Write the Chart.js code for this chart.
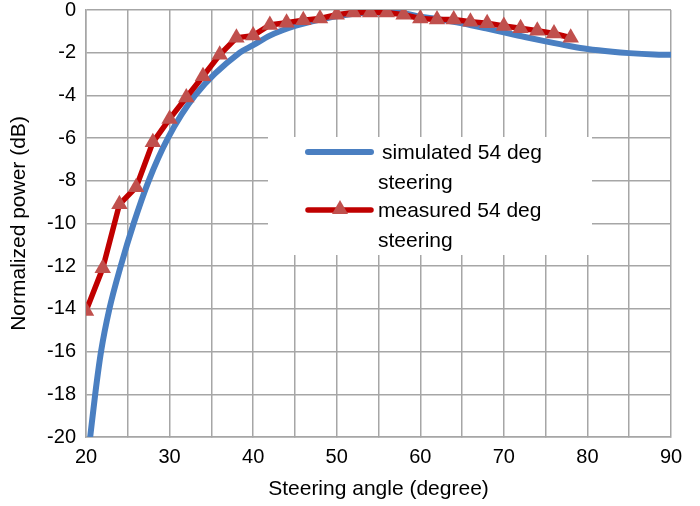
<!DOCTYPE html>
<html>
<head>
<meta charset="utf-8">
<script src="https://cdn.jsdelivr.net/npm/chart.js@4/dist/chart.umd.min.js"></script>
<style>
  html, body { margin: 0; padding: 0; background: #fff; }
  #wrap { width: 700px; height: 506px; position: relative; }
</style>
</head>
<body>
<div id="wrap"><canvas id="c"></canvas></div>
<script>
// simulated 54 deg steering (angle, dB)
const simAngles = [20.5, 21.1, 21.8, 22.8, 24.15, 25.7, 27.5, 29.8, 33.05, 38.4, 40, 42, 45, 48, 50, 52, 54, 56, 58, 60, 62, 65, 68, 70, 72, 75, 78, 80, 83, 85, 88, 90];
const simPower  = [-20, -18, -16, -14, -12, -10, -8, -6, -4, -2, -1.65, -1.2, -0.75, -0.45, -0.3, -0.18, -0.12, -0.1, -0.15, -0.31, -0.42, -0.62, -0.87, -1.05, -1.22, -1.47, -1.7, -1.83, -1.96, -2.02, -2.08, -2.1];

// measured 54 deg steering, every 2 degrees
const measAngles = [20, 22, 24, 26, 28, 30, 32, 34, 36, 38, 40, 42, 44, 46, 48, 50, 52, 54, 56, 58, 60, 62, 64, 66, 68, 70, 72, 74, 76, 78];
const measPower  = [-14.1, -12.1, -9.1, -8.3, -6.2, -5.1, -4.1, -3.1, -2.1, -1.3, -1.2, -0.7, -0.6, -0.48, -0.4, -0.22, -0.12, -0.12, -0.12, -0.22, -0.4, -0.45, -0.45, -0.55, -0.62, -0.75, -0.85, -0.97, -1.1, -1.3];

const legendLabels = [
  ['simulated 54 deg', 'steering'],
  ['measured 54 deg', 'steering'],
];

const FONT = 'Liberation Sans, Arial, sans-serif';
const BLUE = '#4a7fc1';
const RED = '#c00000';
const MARKER = '#c0504d';
const GRID = '#a6a6a6';

// legend box drawn inside the plot, over the gridlines
const boxLegend = {
  id: 'boxLegend',
  beforeDatasetsDraw(chart) {
    const ctx = chart.ctx;
    ctx.save();
    ctx.fillStyle = '#fff';
    ctx.fillRect(268, 137, 324, 118);
    ctx.lineCap = 'round';
    ctx.font = '21px ' + FONT;
    ctx.fillStyle = '#000';
    ctx.textBaseline = 'middle';

    ctx.strokeStyle = BLUE;
    ctx.lineWidth = 6;
    ctx.beginPath(); ctx.moveTo(308, 152); ctx.lineTo(371, 152); ctx.stroke();
    ctx.fillText(legendLabels[0][0], 382, 153);
    ctx.fillText(legendLabels[0][1], 378, 183);

    ctx.strokeStyle = RED;
    ctx.lineWidth = 5.5;
    ctx.beginPath(); ctx.moveTo(308, 210); ctx.lineTo(371, 210); ctx.stroke();
    ctx.fillStyle = MARKER;
    ctx.beginPath(); ctx.moveTo(340, 200); ctx.lineTo(348, 214); ctx.lineTo(332, 214); ctx.closePath(); ctx.fill();
    ctx.fillStyle = '#000';
    ctx.fillText(legendLabels[1][0], 378, 211);
    ctx.fillText(legendLabels[1][1], 378, 241);
    ctx.restore();
  }
};

new Chart(document.getElementById('c'), {
  type: 'line',
  data: {
    datasets: [
      {
        label: 'measured 54 deg steering',
        data: measAngles.map((x, i) => ({ x, y: measPower[i] })),
        borderColor: RED,
        borderWidth: 5.5,
        pointStyle: 'triangle',
        pointRadius: 9.5,
        pointBackgroundColor: MARKER,
        pointBorderColor: MARKER,
        pointBorderWidth: 0,
        tension: 0,
        order: 0,
      },
      {
        label: 'simulated 54 deg steering',
        data: simAngles.map((x, i) => ({ x, y: simPower[i] })),
        borderColor: BLUE,
        borderWidth: 6,
        pointRadius: 0,
        cubicInterpolationMode: 'monotone',
        order: 1,
      },
    ],
  },
  options: {
    responsive: true,
    maintainAspectRatio: false,
    animation: false,
    layout: { padding: { top: 10, right: 29, left: 0, bottom: 0 } },
    plugins: {
      legend: { display: false },
      tooltip: { enabled: false },
    },
    scales: {
      x: {
        type: 'linear',
        min: 20,
        max: 90,
        ticks: {
          stepSize: 5,
          autoSkip: false,
          maxRotation: 0,
          color: '#000',
          font: { family: FONT, size: 20 },
          padding: 8,
          callback(v) { return v % 10 === 0 ? v : ''; },
        },
        grid: { color: GRID, lineWidth: 1.5, tickLength: 0 },
        border: { color: GRID, width: 1.5 },
        title: {
          display: true,
          text: 'Steering angle (degree)',
          color: '#000',
          font: { family: FONT, size: 21 },
          padding: { top: 4, bottom: 4 },
        },
        afterFit(s) { s.height = 69; },
      },
      y: {
        type: 'linear',
        min: -20,
        max: 0,
        ticks: {
          stepSize: 2,
          color: '#000',
          font: { family: FONT, size: 20 },
          padding: 10,
        },
        grid: { color: GRID, lineWidth: 1.5, tickLength: 0 },
        border: { color: GRID, width: 1.5 },
        title: {
          display: true,
          text: 'Normalized power (dB)',
          color: '#000',
          font: { family: FONT, size: 21 },
          padding: { top: 7, bottom: 4 },
        },
        afterFit(s) {
          s.width = 86;
          s.paddingTop = 0;
          s.paddingBottom = 0;
        },
      },
    },
  },
  plugins: [boxLegend],
});
</script>
</body>
</html>
